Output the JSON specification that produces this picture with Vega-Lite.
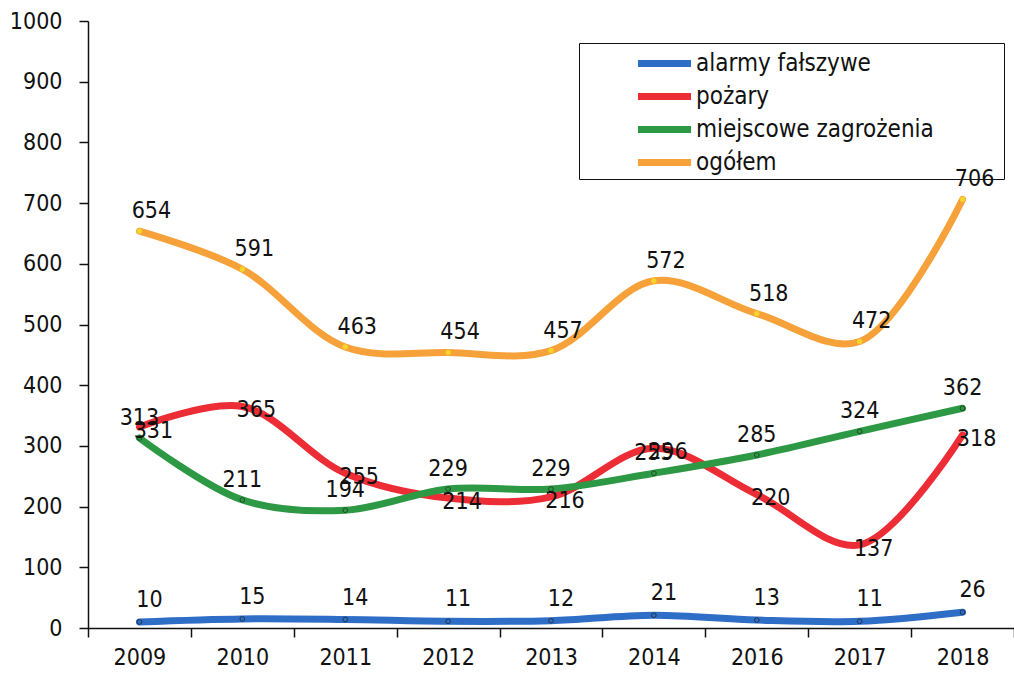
{
  "$schema": "https://vega.github.io/schema/vega-lite/v6.json",
  "autosize": "none",
  "width": 926,
  "height": 607,
  "padding": {"left": 88, "top": 21, "right": 0, "bottom": 49},
  "background": "white",
  "config": {
    "view": {"stroke": null},
    "font": "DejaVu Sans Condensed",
    "axis": {"grid": false, "domainColor": "#111", "tickColor": "#111", "domainWidth": 1.5, "tickWidth": 1.5, "labelColor": "#111", "labelFont": "DejaVu Sans Condensed", "labelFontSize": 23, "title": null}
  },
  "data": {
    "values": [
      {"year": "2009", "series": "alarmy fałszywe", "value": 10},
      {"year": "2010", "series": "alarmy fałszywe", "value": 15},
      {"year": "2011", "series": "alarmy fałszywe", "value": 14},
      {"year": "2012", "series": "alarmy fałszywe", "value": 11},
      {"year": "2013", "series": "alarmy fałszywe", "value": 12},
      {"year": "2014", "series": "alarmy fałszywe", "value": 21},
      {"year": "2016", "series": "alarmy fałszywe", "value": 13},
      {"year": "2017", "series": "alarmy fałszywe", "value": 11},
      {"year": "2018", "series": "alarmy fałszywe", "value": 26},
      {"year": "2009", "series": "pożary", "value": 331},
      {"year": "2010", "series": "pożary", "value": 365},
      {"year": "2011", "series": "pożary", "value": 255},
      {"year": "2012", "series": "pożary", "value": 214},
      {"year": "2013", "series": "pożary", "value": 216},
      {"year": "2014", "series": "pożary", "value": 296},
      {"year": "2016", "series": "pożary", "value": 220},
      {"year": "2017", "series": "pożary", "value": 137},
      {"year": "2018", "series": "pożary", "value": 318},
      {"year": "2009", "series": "miejscowe zagrożenia", "value": 313},
      {"year": "2010", "series": "miejscowe zagrożenia", "value": 211},
      {"year": "2011", "series": "miejscowe zagrożenia", "value": 194},
      {"year": "2012", "series": "miejscowe zagrożenia", "value": 229},
      {"year": "2013", "series": "miejscowe zagrożenia", "value": 229},
      {"year": "2014", "series": "miejscowe zagrożenia", "value": 255},
      {"year": "2016", "series": "miejscowe zagrożenia", "value": 285},
      {"year": "2017", "series": "miejscowe zagrożenia", "value": 324},
      {"year": "2018", "series": "miejscowe zagrożenia", "value": 362},
      {"year": "2009", "series": "ogółem", "value": 654},
      {"year": "2010", "series": "ogółem", "value": 591},
      {"year": "2011", "series": "ogółem", "value": 463},
      {"year": "2012", "series": "ogółem", "value": 454},
      {"year": "2013", "series": "ogółem", "value": 457},
      {"year": "2014", "series": "ogółem", "value": 572},
      {"year": "2016", "series": "ogółem", "value": 518},
      {"year": "2017", "series": "ogółem", "value": 472},
      {"year": "2018", "series": "ogółem", "value": 706}
    ]
  },
  "encoding": {
    "x": {
      "field": "year", "type": "ordinal", "bandPosition": 0.5,
      "scale": {"type": "band", "paddingInner": 0, "paddingOuter": 0},
      "axis": {"labelAngle": 0, "tickBand": "extent", "tickSize": 9, "labelPadding": 9}
    },
    "y": {
      "field": "value", "type": "quantitative",
      "scale": {"domain": [0, 1000], "nice": false},
      "axis": {"values": [0, 100, 200, 300, 400, 500, 600, 700, 800, 900, 1000], "format": "d", "tickSize": 9, "labelPadding": 17}
    }
  },
  "layer": [
    {
      "mark": {"type": "line", "interpolate": "catmull-rom", "strokeWidth": 7, "strokeCap": "round"},
      "encoding": {
        "color": {
          "field": "series", "type": "nominal",
          "scale": {"domain": ["alarmy fałszywe", "pożary", "miejscowe zagrożenia", "ogółem"], "range": ["#2f6ec6", "#ec2d36", "#2e9944", "#f6a13a"]},
          "legend": {
            "orient": "none", "legendX": 491, "legendY": 22, "title": " ", "titleOrient": "right", "titlePadding": 68,
            "symbolType": "M-1.77,0L1.77,0", "symbolStrokeWidth": 7, "symbolSize": 900,
            "labelFont": "DejaVu Sans Condensed", "labelFontSize": 24, "labelColor": "#111", "labelOffset": 13, "labelLimit": 400,
            "strokeColor": "#111", "fillColor": null, "padding": 2, "symbolOffset": 65, "rowPadding": 0
          }
        },
        "detail": {"field": "series"}
      }
    },
    {
      "mark": {"type": "point", "filled": true, "size": 22, "strokeWidth": 1, "opacity": 1},
      "encoding": {
        "fill": {"field": "series", "type": "nominal", "legend": null,
          "scale": {"domain": ["alarmy fałszywe", "pożary", "miejscowe zagrożenia", "ogółem"], "range": ["#2f6ec6", "#ec2d36", "#2e9944", "#f5d52a"]}},
        "stroke": {"field": "series", "type": "nominal", "legend": null,
          "scale": {"domain": ["alarmy fałszywe", "pożary", "miejscowe zagrożenia", "ogółem"], "range": ["#1d3552", "#ec2d36", "#1d4a2a", "#f5d52a"]}}
      }
    },
    {
      "transform": [{"filter": "datum.series === 'alarmy fałszywe'"}],
      "mark": {"type": "text", "fontSize": 23, "font": "DejaVu Sans Condensed", "color": "#111", "dx": 10, "dy": -22},
      "encoding": {"text": {"field": "value", "type": "quantitative"}}
    },
    {
      "transform": [{"filter": "datum.series === 'pożary'"}],
      "mark": {"type": "text", "fontSize": 23, "font": "DejaVu Sans Condensed", "color": "#111", "dx": 14, "dy": 4},
      "encoding": {"text": {"field": "value", "type": "quantitative"}}
    },
    {
      "transform": [{"filter": "datum.series === 'miejscowe zagrożenia'"}],
      "mark": {"type": "text", "fontSize": 23, "font": "DejaVu Sans Condensed", "color": "#111", "dx": 0, "dy": -20},
      "encoding": {"text": {"field": "value", "type": "quantitative"}}
    },
    {
      "transform": [{"filter": "datum.series === 'ogółem'"}],
      "mark": {"type": "text", "fontSize": 23, "font": "DejaVu Sans Condensed", "color": "#111", "dx": 12, "dy": -20},
      "encoding": {"text": {"field": "value", "type": "quantitative"}}
    }
  ]
}
